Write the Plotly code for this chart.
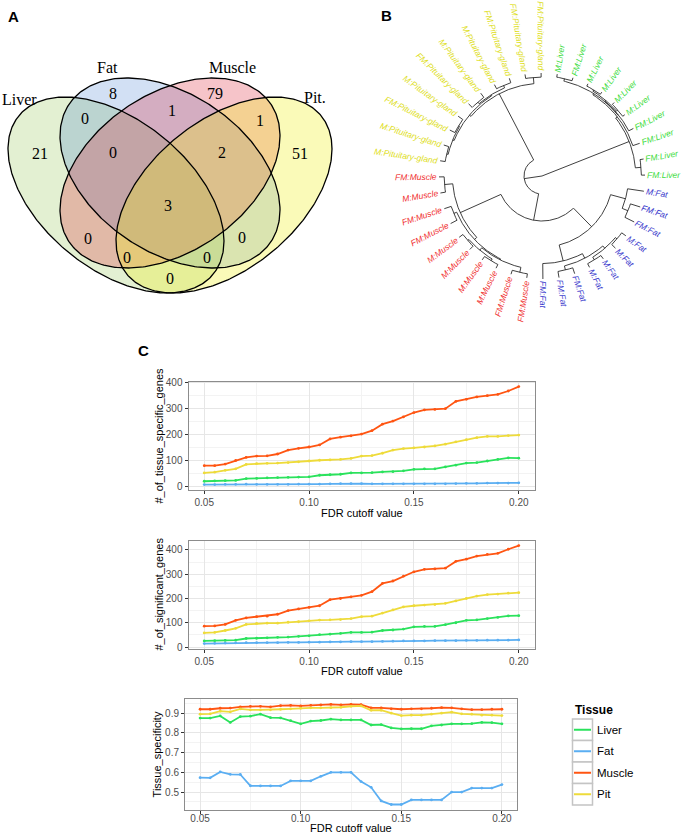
import numpy as np
import plotly.graph_objects as go

W, H = 685, 836

# ---------------- Panel A data (Venn) ----------------
venn_sets = ["Liver", "Fat", "Muscle", "Pit."]
venn_regions = ["L", "F", "M", "P", "LF", "FM", "MP", "LFM", "FMP", "LFMP", "LM", "LMP", "LFP", "FP", "LP"]
venn_counts = [21, 8, 79, 51, 0, 1, 1, 0, 2, 3, 0, 0, 0, 0, 0]

# ---------------- Panel B data (dendrogram) ----------------
leaf_labels = [
    "M:Liver", "FM:Liver", "M:Liver", "M:Liver", "M:Liver", "M:Liver", "FM:Liver", "FM:Liver", "FM:Liver", "FM:Liver",
    "M:Fat", "FM:Fat", "FM:Fat", "M:Fat", "M:Fat", "M:Fat", "M:Fat", "FM:Fat", "FM:Fat", "FM:Fat",
    "FM:Muscle", "FM:Muscle", "M:Muscle", "M:Muscle", "M:Muscle", "M:Muscle", "FM:Muscle", "FM:Muscle", "M:Muscle", "FM:Muscle",
    "M:Pituitary-gland", "M:Pituitary-gland", "FM:Pituitary-gland", "M:Pituitary-gland", "FM:Pituitary-gland",
    "M:Pituitary-gland", "M:Pituitary-gland", "FM:Pituitary-gland", "FM:Pituitary-gland", "FM:Pituitary-gland",
]
# merge structure: (height, [children]); leaves are indices into leaf_labels
liver_tree = (0.91, [(0.93, [(0.945, [(0.97, [0, 1]), (0.95, [(0.96, [(0.975, [2, 3]), (0.975, [4, 5])]), 6])]), 7]),
                     (0.965, [8, 9])])
fat_tree = (0.69, [(0.84, [10, (0.9, [11, 12])]),
                   (0.85, [(0.9, [(0.93, [(0.95, [13, 14]), (0.96, [15, 16])]), (0.94, [17, 18])]), 19])])
muscle_tree = (0.87, [(0.95, [28, 29]),
                      (0.9, [(0.93, [26, 27]), (0.91, [(0.94, [(0.96, [22, 23]), (0.955, [24, 25])]), (0.96, [20, 21])])])])
pit_tree = (0.9, [(0.92, [(0.935, [(0.95, [30, 31]), (0.945, [32, 33])]), (0.93, [(0.95, [34, 35]), (0.955, [36, 37])])]),
                  (0.96, [38, 39])])
dendro_tree = (0.0, [liver_tree, (0.175, [pit_tree, (0.437, [muscle_tree, fat_tree])])])

# ---------------- Panel C data ----------------
fdr_cutoff = [0.05, 0.055, 0.06, 0.065, 0.07, 0.075, 0.08, 0.085, 0.09, 0.095, 0.10, 0.105, 0.11, 0.115, 0.12,
              0.125, 0.13, 0.135, 0.14, 0.145, 0.15, 0.155, 0.16, 0.165, 0.17, 0.175, 0.18, 0.185, 0.19, 0.195, 0.20]
tissues = ["Liver", "Fat", "Muscle", "Pit"]

spec_liver = [20, 21, 22, 23, 30, 31, 33, 34, 35, 36, 37, 43, 45, 47, 52, 52, 53, 56, 57, 60, 66, 68, 68, 75, 82, 90, 92, 98, 104, 110, 109]
spec_fat = [7, 7, 8, 8, 9, 8, 8, 8, 8, 9, 9, 9, 10, 11, 11, 11, 10, 10, 10, 10, 10, 10, 10, 10, 11, 12, 12, 13, 13, 13, 14]
spec_muscle = [80, 80, 86, 100, 112, 117, 118, 125, 140, 147, 152, 160, 183, 190, 195, 202, 215, 240, 252, 268, 285, 295, 297, 300, 328, 336, 345, 350, 355, 368, 385]
spec_pit = [52, 55, 62, 68, 85, 88, 89, 90, 92, 95, 98, 101, 102, 104, 108, 117, 119, 128, 140, 146, 149, 152, 156, 163, 172, 180, 188, 193, 193, 196, 198]

sig_liver = [25, 26, 27, 28, 35, 36, 38, 40, 41, 44, 46, 51, 53, 56, 60, 60, 61, 68, 70, 74, 83, 85, 85, 92, 100, 110, 112, 117, 122, 128, 129]
sig_fat = [14, 15, 16, 17, 18, 18, 18, 18, 19, 19, 20, 20, 21, 21, 22, 22, 22, 23, 24, 25, 25, 25, 26, 26, 26, 27, 27, 28, 28, 28, 29]
sig_muscle = [86, 87, 93, 110, 120, 125, 127, 135, 150, 157, 163, 170, 195, 200, 207, 213, 228, 262, 272, 292, 310, 320, 322, 325, 353, 362, 375, 382, 386, 403, 418]
sig_pit = [58, 60, 68, 77, 93, 97, 98, 98, 102, 104, 108, 111, 112, 113, 117, 125, 127, 140, 153, 165, 170, 173, 175, 180, 190, 200, 210, 216, 218, 222, 224]

ts_liver = [0.875, 0.875, 0.886, 0.853, 0.883, 0.885, 0.895, 0.877, 0.876, 0.862, 0.846, 0.860, 0.863, 0.870, 0.866, 0.866,
            0.866, 0.840, 0.842, 0.825, 0.820, 0.821, 0.821, 0.836, 0.840, 0.846, 0.846, 0.847, 0.853, 0.852, 0.846]
ts_fat = [0.573, 0.572, 0.602, 0.590, 0.589, 0.532, 0.531, 0.531, 0.531, 0.557, 0.557, 0.557, 0.580, 0.600, 0.600, 0.600,
          0.553, 0.524, 0.455, 0.437, 0.437, 0.460, 0.460, 0.460, 0.460, 0.500, 0.500, 0.520, 0.520, 0.520, 0.538]
ts_muscle = [0.920, 0.920, 0.925, 0.926, 0.932, 0.935, 0.935, 0.932, 0.938, 0.940, 0.937, 0.940, 0.942, 0.945, 0.942, 0.945,
             0.943, 0.927, 0.927, 0.922, 0.920, 0.922, 0.922, 0.925, 0.928, 0.927, 0.922, 0.918, 0.918, 0.920, 0.920]
ts_pit = [0.895, 0.897, 0.910, 0.907, 0.922, 0.917, 0.917, 0.917, 0.920, 0.922, 0.925, 0.927, 0.927, 0.928, 0.930, 0.935,
          0.937, 0.915, 0.915, 0.900, 0.888, 0.890, 0.890, 0.895, 0.900, 0.905, 0.897, 0.895, 0.890, 0.890, 0.888]

# ---------------- styles / layout positions (px, y downwards) ----------------
SANS = "Liberation Sans, Arial, sans-serif"
SERIF = "Liberation Serif, Times New Roman, serif"
tissue_colors = {"Liver": "#2ae25c", "Fat": "#5aaef2", "Muscle": "#ff5512", "Pit": "#eedb3a"}

venn_geom = {  # cx, cy, half-width, half-height, correlation
    "Liver": (116, 195, 108, 98, 0.47),
    "Fat": (170, 173, 110, 95, 0.39),
    "Muscle": (170, 173, 110, 95, -0.39),
    "Pit.": (224, 195, 108, 98, -0.47),
}
venn_fill = {"Liver": "rgba(115,180,30,0.20)", "Fat": "rgba(30,100,200,0.20)",
             "Muscle": "rgba(220,20,40,0.25)", "Pit.": "rgba(240,240,20,0.30)"}
venn_set_pos = {"Liver": (19, 99), "Fat": (107, 67), "Muscle": (232, 67), "Pit.": (315, 97)}
venn_region_pos = {"L": (40, 153), "F": (113, 93), "M": (215, 93), "P": (300, 153), "LF": (85, 118),
                   "FM": (172, 110), "MP": (260, 120), "LFM": (113, 152), "FMP": (222, 152), "LFMP": (168, 205),
                   "LM": (88, 238), "LMP": (127, 257), "LFP": (207, 257), "FP": (242, 237), "LP": (170, 278)}

fig = go.Figure()
annotations = []
shapes = []

# ---------------- Panel A ----------------
t = np.linspace(0, 2 * np.pi, 361)
curves = {}
for name in venn_sets:
    cx, cy, hx, hy, rho = venn_geom[name]
    ex = cx + hx * np.cos(t)
    ey = cy + rho * hy * np.cos(t) + hy * np.sqrt(1 - rho ** 2) * np.sin(t)
    curves[name] = (ex, -ey)
for name in venn_sets:
    ex, ey = curves[name]
    fig.add_trace(go.Scatter(x=ex, y=ey, mode="lines", fill="toself", fillcolor=venn_fill[name],
                             line=dict(width=0), hoverinfo="skip", showlegend=False, xaxis="x", yaxis="y"))
for name in venn_sets:
    ex, ey = curves[name]
    fig.add_trace(go.Scatter(x=ex, y=ey, mode="lines", line=dict(color="black", width=1.3),
                             hoverinfo="skip", showlegend=False, xaxis="x", yaxis="y"))
for name in venn_sets:
    px_, py_ = venn_set_pos[name]
    annotations.append(dict(x=px_, y=-py_, xref="x", yref="y", text=name, showarrow=False,
                            font=dict(family=SERIF, size=16, color="black"), xanchor="center", yanchor="middle"))
for key, cnt in zip(venn_regions, venn_counts):
    px_, py_ = venn_region_pos[key]
    annotations.append(dict(x=px_, y=-py_, xref="x", yref="y", text=str(cnt), showarrow=False,
                            font=dict(family=SERIF, size=16, color="black"), xanchor="center", yanchor="middle"))

# ---------------- Panel B ----------------
CX, CY, R = 542.0, -176.0, 103.0
leaf_angle = {i: 81.5 - 9.0 * i for i in range(len(leaf_labels))}
segx, segy = [], []


def walk(node):
    if isinstance(node, int):
        return leaf_angle[node], 1.0
    h, kids = node
    res = [walk(k) for k in kids]
    angs = [a for a, _ in res]
    if h > 0:
        a0, a1 = min(angs), max(angs)
        aa = np.radians(np.linspace(a0, a1, int(abs(a1 - a0)) * 2 + 2))
        segx.extend(list(CX + R * h * np.cos(aa)) + [None])
        segy.extend(list(CY + R * h * np.sin(aa)) + [None])
    for a, hk in res:
        ar = np.radians(a)
        segx.extend([CX + R * h * np.cos(ar), CX + R * hk * np.cos(ar), None])
        segy.extend([CY + R * h * np.sin(ar), CY + R * hk * np.sin(ar), None])
    return float(np.mean(angs)), h


walk(dendro_tree)
fig.add_trace(go.Scatter(x=segx, y=segy, mode="lines", line=dict(color="#2a2a2a", width=0.9),
                         hoverinfo="skip", showlegend=False, xaxis="x", yaxis="y"))

char_w = {"M": .833, "F": .611, ":": .278, "P": .667, "i": .222, "t": .278, "u": .556, "a": .556, "r": .333,
          "y": .5, "-": .333, "g": .556, "l": .222, "n": .556, "d": .556, "L": .556, "v": .5, "e": .556,
          "s": .5, "c": .5}
label_colors = {"Liver": "#3ddc3d", "Fat": "#3a3acc", "Muscle": "#f03030", "Pituitary": "#dede1e"}
LFS = 8.5
for i, lab in enumerate(leaf_labels):
    th = (leaf_angle[i] + 180) % 360 - 180
    if th <= -180:
        th += 360
    L = sum(char_w.get(ch, 0.55) for ch in lab) * LFS
    rc = R + 2.5 + L / 2
    x = CX + rc * np.cos(np.radians(th))
    y = CY + rc * np.sin(np.radians(th))
    if np.cos(np.radians(th)) >= 0:
        ta = -th
    else:
        ta = 180 - th
    ta = (ta + 180) % 360 - 180
    col = [c for k, c in label_colors.items() if k in lab][0]
    annotations.append(dict(x=x, y=y, xref="x", yref="y", text="<i>" + lab + "</i>", showarrow=False,
                            textangle=ta, font=dict(family=SANS, size=LFS, color=col),
                            xanchor="center", yanchor="middle"))

# panel letters
for letter, (lx, ly) in {"A": (13, 16), "B": (386, 15), "C": (143, 350)}.items():
    annotations.append(dict(x=lx, y=-ly, xref="x", yref="y", text="<b>" + letter + "</b>", showarrow=False,
                            font=dict(family=SANS, size=15, color="black"), xanchor="center", yanchor="middle"))

# ---------------- Panel C ----------------
panels = [
    dict(series=[spec_liver, spec_fat, spec_muscle, spec_pit], box=(188.5, 534.5, 381.7, 489.5),
         ytitle="#_of_tissue_specific_genes", ytx=159, xty=513, dtick=100, mdtick=50, fmt="d", xstand=0),
    dict(series=[sig_liver, sig_fat, sig_muscle, sig_pit], box=(188.5, 534.5, 540.7, 648.5),
         ytitle="#_of_significant_genes", ytx=159, xty=671, dtick=100, mdtick=50, fmt="d", xstand=0),
    dict(series=[ts_liver, ts_fat, ts_muscle, ts_pit], box=(185.0, 517.0, 699.3, 809.5),
         ytitle="Tissue_specificity", ytx=157, xty=828, dtick=0.1, mdtick=0.05, fmt=".1f", xstand=-4),
]

xlo, xhi = min(fdr_cutoff), max(fdr_cutoff)
xr = [xlo - 0.05 * (xhi - xlo), xhi + 0.05 * (xhi - xlo)]
tickfont = dict(family=SANS, size=10, color="#4d4d4d")
layout_axes = {}
for k, p in enumerate(panels):
    n = k + 2
    x0, x1, y0, y1 = p["box"]
    allv = [v for s in p["series"] for v in s]
    lo, hi = min(allv), max(allv)
    yr = [lo - 0.05 * (hi - lo), hi + 0.05 * (hi - lo)]
    for name, s in zip(tissues, p["series"]):
        fig.add_trace(go.Scatter(x=fdr_cutoff, y=s, mode="lines+markers",
                                 line=dict(color=tissue_colors[name], width=1.8),
                                 marker=dict(color=tissue_colors[name], size=2.8),
                                 name=name, showlegend=False, xaxis="x%d" % n, yaxis="y%d" % n))
    common = dict(showline=True, mirror=True, linecolor="#8c8c8c", linewidth=1, ticks="outside", ticklen=3,
                  tickcolor="#333333", tickwidth=1, showgrid=True, gridcolor="#e6e6e6", gridwidth=1,
                  zeroline=False, tickfont=tickfont, fixedrange=True, automargin=False)
    layout_axes["xaxis%d" % n] = dict(domain=[x0 / W, x1 / W], range=xr, anchor="y%d" % n,
                                      tick0=0.05, dtick=0.05, tickformat=".2f", ticklabelstandoff=p["xstand"],
                                      minor=dict(dtick=0.025, showgrid=True, gridcolor="#f3f3f3"), **common)
    layout_axes["yaxis%d" % n] = dict(domain=[1 - y1 / H, 1 - y0 / H], range=yr, anchor="x%d" % n,
                                      tick0=0, dtick=p["dtick"], tickformat=p["fmt"],
                                      minor=dict(dtick=p["mdtick"], showgrid=True, gridcolor="#f3f3f3"), **common)
    annotations.append(dict(x=p["ytx"], y=-(y0 + y1) / 2, xref="x", yref="y", text=p["ytitle"], showarrow=False,
                            textangle=-90, font=dict(family=SANS, size=11, color="black"),
                            xanchor="center", yanchor="middle"))
    annotations.append(dict(x=(x0 + x1) / 2, y=-p["xty"], xref="x", yref="y", text="FDR cutoff value",
                            showarrow=False, font=dict(family=SANS, size=11, color="black"),
                            xanchor="center", yanchor="middle"))

# legend (custom, ggplot style)
annotations.append(dict(x=573, y=-710, xref="x", yref="y", text="<b>Tissue</b>", showarrow=False,
                        font=dict(family=SANS, size=12, color="black"), xanchor="left", yanchor="middle"))
for k, name in enumerate(tissues):
    top = 719 + 21.5 * k
    shapes.append(dict(type="rect", xref="x", yref="y", x0=572.5, x1=592.5, y0=-top, y1=-(top + 21.5),
                       line=dict(color="#c4c4c4", width=1.5), fillcolor="white", layer="above"))
    yc = top + 10.75
    shapes.append(dict(type="line", xref="x", yref="y", x0=574, x1=591, y0=-yc, y1=-yc,
                       line=dict(color=tissue_colors[name], width=2), layer="above"))
    annotations.append(dict(x=595, y=-yc, xref="x", yref="y", text=name, showarrow=False,
                            font=dict(family=SANS, size=11.5, color="black"), xanchor="left", yanchor="middle"))

fig.update_layout(
    template="none",
    width=W, height=H, autosize=False, margin=dict(l=0, r=0, t=0, b=0, pad=0),
    paper_bgcolor="white", plot_bgcolor="rgba(0,0,0,0)", showlegend=False,
    font=dict(family=SANS, size=10, color="black"),
    xaxis=dict(domain=[0, 1], range=[0, W], visible=False, fixedrange=True, automargin=False),
    yaxis=dict(domain=[0, 1], range=[-H, 0], visible=False, fixedrange=True, automargin=False),
    annotations=annotations, shapes=shapes,
    **layout_axes,
)

fig.write_html("out.html", config={"displayModeBar": False, "staticPlot": True},
               post_script="document.body.style.margin='0px';document.body.style.padding='0px';"
                           "document.body.style.overflow='hidden';")
